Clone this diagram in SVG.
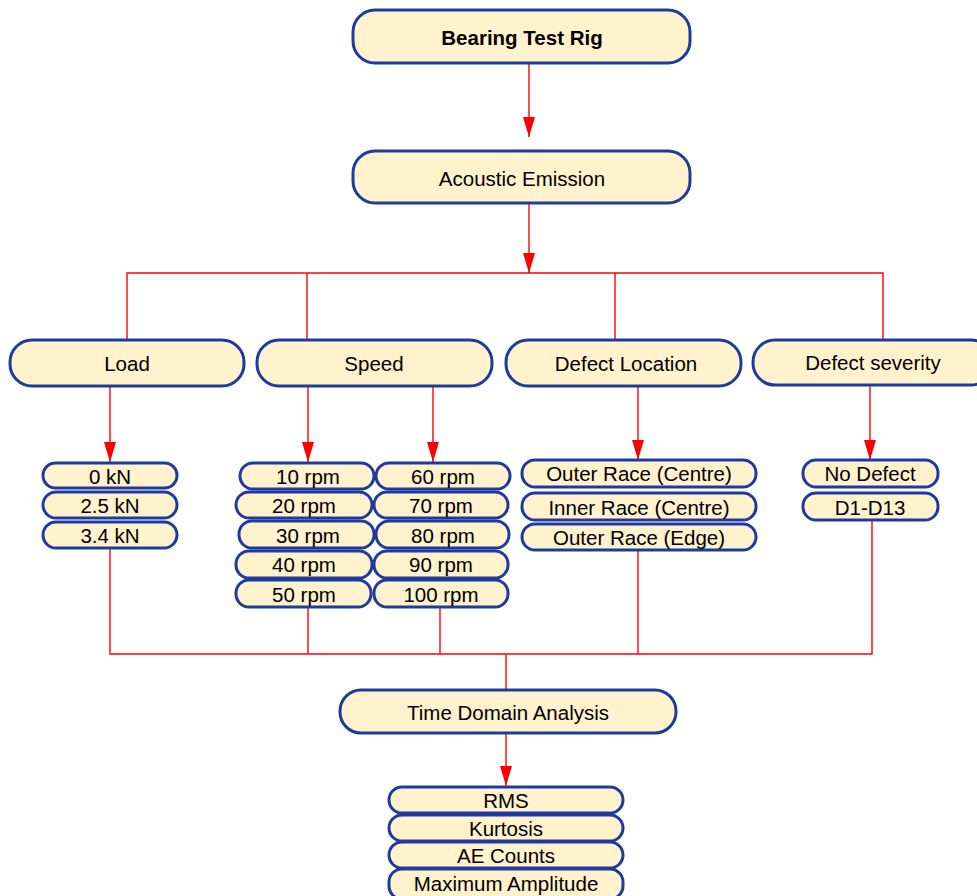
<svg xmlns="http://www.w3.org/2000/svg" width="977" height="896" viewBox="0 0 977 896">
<defs>
<marker id="ah" markerWidth="20" markerHeight="12" refX="20" refY="6" orient="auto" markerUnits="userSpaceOnUse" viewBox="0 0 20 12">
<path d="M0,0 L20,6 L0,12 Z" fill="#FF0000"/>
</marker>
<style>
.b{fill:#FFF2CC;stroke:#1F3A9F;stroke-width:3}
.t{font-family:"Liberation Sans",Arial,sans-serif;font-size:20.5px;fill:#000;text-anchor:middle;dominant-baseline:central}
.c{fill:none;stroke:#FF0000;stroke-width:1.4}
</style>
</defs>
<rect width="977" height="896" fill="#fff"/>
<g id="connectors">
<line class="c" x1="529" y1="63" x2="529" y2="137" marker-end="url(#ah)"/>
<line class="c" x1="529" y1="203" x2="529" y2="273" marker-end="url(#ah)"/>
<polyline class="c" points="127,340 127,273 883,273 883,340"/>
<line class="c" x1="307" y1="273" x2="307" y2="340"/>
<line class="c" x1="615" y1="273" x2="615" y2="340"/>
<line class="c" x1="110" y1="386" x2="110" y2="462" marker-end="url(#ah)"/>
<line class="c" x1="308" y1="386" x2="308" y2="462" marker-end="url(#ah)"/>
<line class="c" x1="433" y1="386" x2="433" y2="462" marker-end="url(#ah)"/>
<line class="c" x1="638" y1="386" x2="638" y2="460" marker-end="url(#ah)"/>
<line class="c" x1="870" y1="386" x2="870" y2="460" marker-end="url(#ah)"/>
<polyline class="c" points="110,548 110,654 872,654 872,520"/>
<line class="c" x1="308" y1="607" x2="308" y2="654"/>
<line class="c" x1="440" y1="607" x2="440" y2="654"/>
<line class="c" x1="638" y1="550" x2="638" y2="654"/>
<line class="c" x1="506" y1="654" x2="506" y2="690"/>
<line class="c" x1="506" y1="733" x2="506" y2="786" marker-end="url(#ah)"/>
</g>
<g id="bearing"><rect class="b" x="353" y="10" width="337" height="53" rx="22"/><text class="t" x="522" y="37" font-weight="bold" font-size="20px">Bearing Test Rig</text></g>
<g id="acoustic"><rect class="b" x="353" y="151" width="337" height="52" rx="22"/><text class="t" x="522" y="178">Acoustic Emission</text></g>
<g id="load"><rect class="b" x="10" y="340" width="234" height="46" rx="22"/><text class="t" x="127" y="363">Load</text></g>
<g id="speed"><rect class="b" x="257" y="340" width="235" height="46" rx="22"/><text class="t" x="374" y="363">Speed</text></g>
<g id="defloc"><rect class="b" x="506" y="340" width="235" height="46" rx="22"/><text class="t" x="626" y="363">Defect Location</text></g>
<g id="defsev"><rect class="b" x="753" y="340" width="240" height="45" rx="22"/><text class="t" x="873" y="362">Defect severity</text></g>
<g id="load0"><rect class="b" x="43" y="463" width="134" height="25" rx="12.5"/><text class="t" x="110" y="476">0 kN</text></g>
<g id="load25"><rect class="b" x="43" y="492" width="134" height="26" rx="13"/><text class="t" x="110" y="505">2.5 kN</text></g>
<g id="load34"><rect class="b" x="43" y="522" width="134" height="26" rx="13"/><text class="t" x="110" y="535">3.4 kN</text></g>
<g id="s10"><rect class="b" x="240" y="463" width="134" height="26" rx="13"/><text class="t" x="308" y="476">10 rpm</text></g>
<g id="s20"><rect class="b" x="236" y="492" width="136" height="26" rx="13"/><text class="t" x="304" y="505">20 rpm</text></g>
<g id="s30"><rect class="b" x="239" y="521" width="135" height="27" rx="13"/><text class="t" x="308" y="535">30 rpm</text></g>
<g id="s40"><rect class="b" x="236" y="551" width="136" height="27" rx="13"/><text class="t" x="304" y="564">40 rpm</text></g>
<g id="s50"><rect class="b" x="236" y="580" width="135" height="27" rx="13"/><text class="t" x="304" y="594">50 rpm</text></g>
<g id="s60"><rect class="b" x="376" y="463" width="134" height="26" rx="13"/><text class="t" x="443" y="476">60 rpm</text></g>
<g id="s70"><rect class="b" x="374" y="492" width="134" height="26" rx="13"/><text class="t" x="441" y="505">70 rpm</text></g>
<g id="s80"><rect class="b" x="376" y="521" width="133" height="27" rx="13"/><text class="t" x="443" y="535">80 rpm</text></g>
<g id="s90"><rect class="b" x="374" y="551" width="134" height="27" rx="13"/><text class="t" x="441" y="564">90 rpm</text></g>
<g id="s100"><rect class="b" x="374" y="580" width="134" height="27" rx="13"/><text class="t" x="441" y="594">100 rpm</text></g>
<g id="orc"><rect class="b" x="522" y="460" width="234" height="27" rx="13"/><text class="t" x="639" y="473">Outer Race (Centre)</text></g>
<g id="irc"><rect class="b" x="522" y="493" width="234" height="27" rx="13"/><text class="t" x="639" y="507">Inner Race (Centre)</text></g>
<g id="ore"><rect class="b" x="522" y="524" width="234" height="26" rx="13"/><text class="t" x="639" y="537">Outer Race (Edge)</text></g>
<g id="nodef"><rect class="b" x="803" y="460" width="135" height="27" rx="13"/><text class="t" x="870" y="473">No Defect</text></g>
<g id="d1d13"><rect class="b" x="803" y="493" width="135" height="27" rx="13"/><text class="t" x="870" y="507">D1-D13</text></g>
<g id="tda"><rect class="b" x="340" y="690" width="336" height="43" rx="21"/><text class="t" x="508" y="712">Time Domain Analysis</text></g>
<g id="rms"><rect class="b" x="389" y="787" width="234" height="26" rx="13"/><text class="t" x="506" y="800">RMS</text></g>
<g id="kurt"><rect class="b" x="389" y="815" width="234" height="26" rx="13"/><text class="t" x="506" y="828">Kurtosis</text></g>
<g id="aec"><rect class="b" x="389" y="842" width="234" height="26" rx="13"/><text class="t" x="506" y="855">AE Counts</text></g>
<g id="maxamp"><rect class="b" x="389" y="869" width="234" height="30" rx="13"/><text class="t" x="506" y="883">Maximum Amplitude</text></g>
</svg>
